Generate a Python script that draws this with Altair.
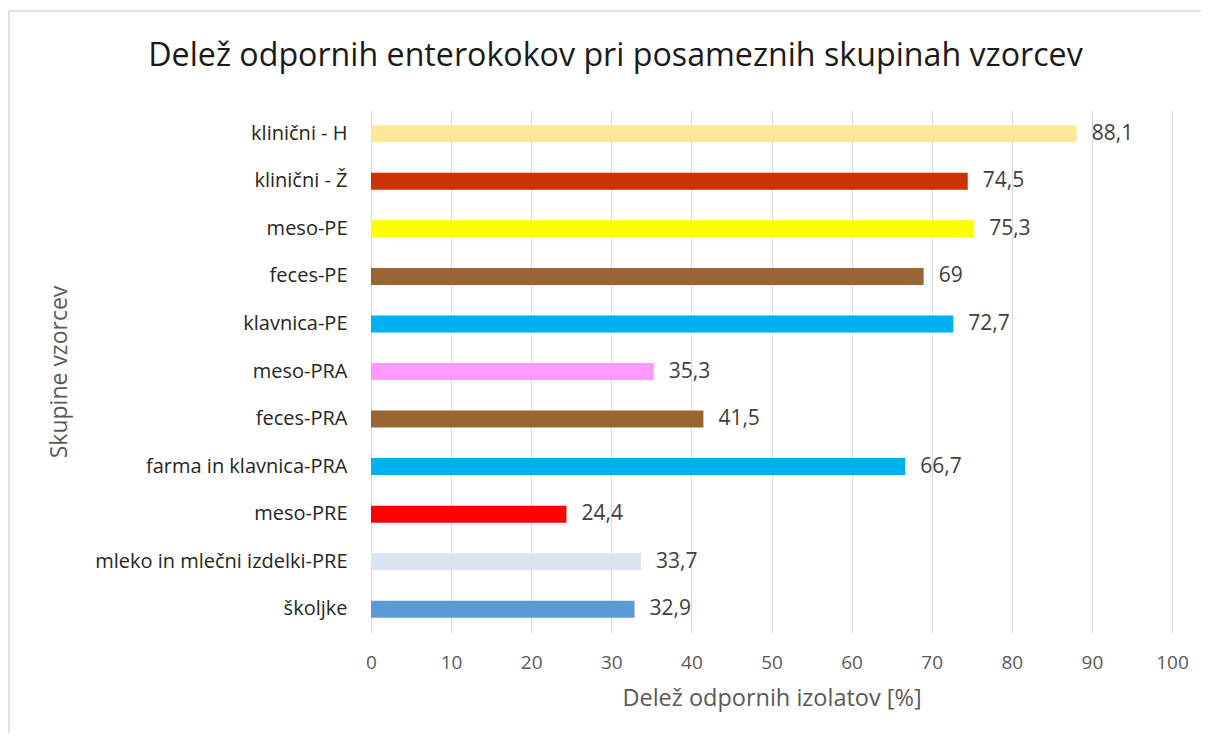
import altair as alt
import pandas as pd

categories = [
    "klinični - H", "klinični - Ž", "meso-PE", "feces-PE", "klavnica-PE",
    "meso-PRA", "feces-PRA", "farma in klavnica-PRA", "meso-PRE",
    "mleko in mlečni izdelki-PRE", "školjke",
]
values = [88.1, 74.5, 75.3, 69, 72.7, 35.3, 41.5, 66.7, 24.4, 33.7, 32.9]
colors = [
    "#FFE699", "#CC3300", "#FFFF00", "#996633", "#00B0F0",
    "#FF99FF", "#996633", "#00B0F0", "#FF0000", "#DAE3F3", "#5B9BD5",
]

df = pd.DataFrame({"cat": categories, "val": values, "col": colors})

FONT = "Open Sans"

base = alt.Chart(df).encode(
    y=alt.Y(
        "cat:N",
        sort=categories,
        scale=alt.Scale(paddingInner=0, paddingOuter=0),
        axis=alt.Axis(
            title="Skupine vzorcev",
            domain=False,
            ticks=False,
            grid=False,
            labelPadding=24,
            labelLimit=500,
            labelFontSize=20,
            labelColor="#262626",
            labelFont=FONT,
            titleFont=FONT,
            titleFontSize=23,
            titleFontWeight="normal",
            titleColor="#595959",
            titleX=-312,
            titleAngle=270,
            titleAlign="center",
            titleBaseline="middle",
        ),
    )
)

bars = base.mark_bar(size=17).encode(
    x=alt.X(
        "val:Q",
        scale=alt.Scale(domain=[0, 100], nice=False),
        axis=alt.Axis(
            title="Delež odpornih izolatov [%]",
            values=list(range(0, 101, 10)),
            domain=False,
            ticks=False,
            grid=True,
            gridColor="#d9d9d9",
            gridWidth=1,
            labelFlush=False,
            labelPadding=20,
            labelFontSize=19,
            labelColor="#595959",
            labelFont=FONT,
            titleFont=FONT,
            titleFontSize=23.5,
            titleFontWeight="normal",
            titleColor="#595959",
            titlePadding=14,
        ),
    ),
    color=alt.Color("col:N", scale=None),
)

labels = base.mark_text(
    align="left", baseline="middle", dx=15, fontSize=21, font=FONT, color="#404040"
).encode(
    x=alt.X("val:Q"),
    text=alt.Text("lab:N"),
).transform_calculate(lab="replace(format(datum.val, '.1~f'), '.', ',')")

frame = alt.Chart(pd.DataFrame({"a": [0]})).mark_rect(
    fill=None, stroke="#d9d9d9", strokeWidth=1.5
).encode(
    x=alt.value(-362), x2=alt.value(900), y=alt.value(-99), y2=alt.value(700)
)

chart = alt.layer(frame, bars, labels).properties(
    width=801,
    height=523,
    title=alt.TitleParams(
        "Delež odpornih enterokokov pri posameznih skupinah vzorcev",
        font=FONT,
        fontSize=32.2,
        fontWeight="normal",
        color="#1a1a1a",
        anchor="middle",
        frame="group",
        dx=-156,
        offset=-63,
    ),
    autosize=alt.AutoSizeParams(type="none"),
    padding={"left": 363, "top": 102, "right": 29, "bottom": 100},
).configure(background="white").configure_view(strokeWidth=0)

chart.save("out.html", embed_options={"renderer": "svg", "actions": False})
